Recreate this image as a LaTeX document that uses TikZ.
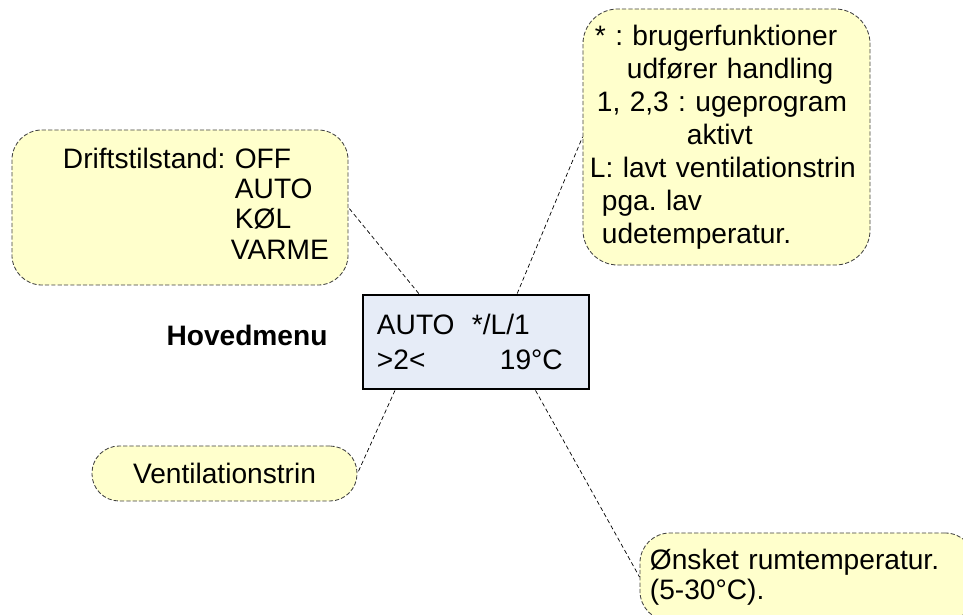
\documentclass[tikz,border=0pt]{standalone}
\usepackage{fontspec}
\setmainfont{Liberation Sans}
\usepackage{tikz}
\usetikzlibrary{calc}
\newdimen\unitpx
\unitpx=0.025cm
\definecolor{notefill}{HTML}{FFFFCC}
\definecolor{lcdfill}{HTML}{E6ECF7}
\tikzset{
    note/.style={draw=black!75,fill=notefill,dash pattern=on 3pt off 1.5pt,line width=0.6pt,align=left,inner ysep=0pt,font=\fontsize{20}{21.5}\selectfont\frenchspacing},
    lcdbox/.style={draw=black,fill=lcdfill,line width=2pt,align=left,inner ysep=0pt,font=\fontsize{20}{25}\selectfont},
    leader/.style={draw=black,line width=0.5pt,dash pattern=on 3pt off 2pt},
    title/.style={font=\fontsize{20}{22}\selectfont\bfseries}
}

\begin{document}
\begin{tikzpicture}[x=0.025cm,y=-0.025cm]
				\useasboundingbox (0,0) rectangle (963,615);
				
				\node[lcdbox,minimum width=5.65cm,minimum height=2.35cm,inner xsep=0.35cm,text width=4.95cm] (lcd) at (476,342)
				{\makebox[95\unitpx][l]{AUTO}*/L/1\\\makebox[123\unitpx][l]{>2<}19°C};
				\node[title] (menu) at (247,335) {Hovedmenu};
				
				\node[note,minimum width=8.4cm,minimum height=3.875cm,inner xsep=0.15cm,text width=8.1cm,rounded corners=0.75cm] (mode) at (180,207.5)
				{\hspace*{45\unitpx}Driftstilstand: OFF\\\hspace*{217\unitpx}AUTO\\\hspace*{217\unitpx}KØL\\\hspace*{213\unitpx}VARME\vspace*{8\unitpx}};
				
				\node[note,minimum width=7.175cm,minimum height=6.4cm,inner xsep=0.175cm,text width=6.825cm,rounded corners=0.875cm,font=\fontsize{20}{23.5}\selectfont\frenchspacing] (flags) at (726.5,137)
				{\hspace*{5\unitpx}* : brugerfunktioner\\\hspace*{37\unitpx}udfører handling\\\hspace*{7\unitpx}1, 2,3 : ugeprogram\\\hspace*{97\unitpx}aktivt\\L: lavt ventilationstrin\\\hspace*{12\unitpx}pga. lav\\\hspace*{12\unitpx}udetemperatur.};
				
				\node[note,align=center,minimum width=6.625cm,minimum height=1.375cm,rounded corners=0.68cm] (vent) at (224.5,473.5) {Ventilationstrin};
				
				\node[note,minimum width=8.375cm,minimum height=2.2cm,inner xsep=0.25cm,text width=7.875cm,rounded corners=0.75cm] (temp) at (807.5,577)
				{Ønsket rumtemperatur.\\(5-30°C).};
				
				\draw[leader] ($(lcd.north west)!.25!(lcd.north east)$) -- (mode.east);
				\draw[leader] ($(lcd.north west)!.68!(lcd.north east)$) -- (flags.west);
				\draw[leader] ($(lcd.south west)!.146!(lcd.south east)$) -- (vent.east);
				\draw[leader] ($(lcd.south west)!.76!(lcd.south east)$) -- (temp.west);
			\end{tikzpicture}
\end{document}
